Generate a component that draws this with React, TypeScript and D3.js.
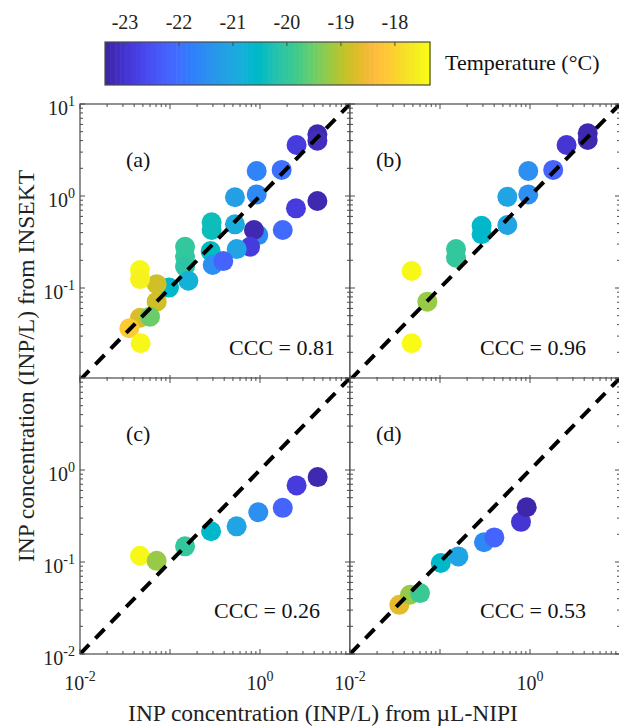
import React from "react";
import * as d3 from "d3";

const W = 619;
const H = 726;

// MATLAB parula colormap (64 entries)
const PARULA: number[][] = [
  [0.2422, 0.1504, 0.6603], [0.2504, 0.165, 0.7076], [0.2578, 0.1818, 0.7511], [0.2647, 0.1978, 0.7952],
  [0.2706, 0.2147, 0.8364], [0.2751, 0.2342, 0.871], [0.2783, 0.2559, 0.8991], [0.2803, 0.2782, 0.9221],
  [0.2813, 0.3006, 0.9414], [0.281, 0.3228, 0.9579], [0.2795, 0.3447, 0.9717], [0.276, 0.3667, 0.9829],
  [0.2699, 0.3892, 0.9906], [0.2602, 0.4123, 0.9952], [0.244, 0.4358, 0.9988], [0.2206, 0.4603, 0.9973],
  [0.1963, 0.4847, 0.9892], [0.1834, 0.5074, 0.9798], [0.1786, 0.5289, 0.9682], [0.1764, 0.5499, 0.952],
  [0.1687, 0.5703, 0.9359], [0.154, 0.5902, 0.9218], [0.146, 0.6091, 0.9079], [0.138, 0.6276, 0.8973],
  [0.1248, 0.6459, 0.8883], [0.1113, 0.6635, 0.8763], [0.0952, 0.6798, 0.8598], [0.0689, 0.6948, 0.8394],
  [0.0297, 0.7082, 0.8163], [0.0036, 0.7203, 0.7917], [0.0067, 0.7312, 0.766], [0.0433, 0.7411, 0.7394],
  [0.0964, 0.75, 0.712], [0.1408, 0.7584, 0.6842], [0.1717, 0.767, 0.6554], [0.1938, 0.7758, 0.6251],
  [0.2161, 0.7843, 0.5923], [0.247, 0.7918, 0.5567], [0.2906, 0.7973, 0.5188], [0.3406, 0.8008, 0.4789],
  [0.3909, 0.8029, 0.4354], [0.4456, 0.8024, 0.3909], [0.5044, 0.7993, 0.348], [0.5616, 0.7942, 0.3045],
  [0.6174, 0.7876, 0.2612], [0.672, 0.7793, 0.2227], [0.7242, 0.7698, 0.191], [0.7738, 0.7598, 0.1646],
  [0.8203, 0.7498, 0.1535], [0.8634, 0.7406, 0.1596], [0.9035, 0.733, 0.1774], [0.9393, 0.7288, 0.21],
  [0.9728, 0.7298, 0.2394], [0.9956, 0.7434, 0.2371], [0.997, 0.7659, 0.2199], [0.9952, 0.7893, 0.2028],
  [0.9892, 0.8136, 0.1885], [0.9786, 0.8386, 0.1766], [0.9676, 0.8639, 0.1643], [0.961, 0.889, 0.1537],
  [0.9597, 0.9135, 0.1423], [0.9628, 0.9373, 0.1265], [0.9691, 0.9606, 0.1064], [0.9769, 0.9839, 0.0805],
];
const parulaColors = PARULA.map(([r, g, b]) => d3.rgb(r * 255, g * 255, b * 255).formatHex());

// Temperature colour range and colorbar ticks (°C)
const TEMP_RANGE = [-23.37, -17.35];
const tempTicks = [-23, -22, -21, -20, -19, -18];

// (a) all samples
const aX = [4.34, 4.34, 2.55, 1.74, 0.919, 0.919, 0.527, 4.34, 2.51, 1.79, 0.527, 0.957, 0.857, 0.776, 0.551, 0.29, 0.29, 0.283, 0.298, 0.391, 0.147, 0.147, 0.147, 0.16, 0.0975, 0.0711, 0.0464, 0.0464, 0.0711, 0.0464, 0.06, 0.0353, 0.0472];
const aY = [4.69, 3.99, 3.58, 1.92, 1.87, 1.04, 0.97, 0.883, 0.734, 0.427, 0.492, 0.376, 0.427, 0.281, 0.265, 0.518, 0.427, 0.252, 0.178, 0.196, 0.281, 0.219, 0.171, 0.12, 0.101, 0.11, 0.157, 0.125, 0.071, 0.0475, 0.0488, 0.0365, 0.0251];
const aT = [-23.3, -23.2, -22.9, -22.0, -21.7, -21.6, -21.2, -23.3, -22.9, -22.1, -20.9, -21.6, -23.3, -22.9, -21.1, -20.4, -20.4, -20.5, -21.5, -22.2, -20.0, -20.0, -20.1, -20.8, -20.6, -18.8, -17.4, -17.5, -18.8, -18.7, -19.5, -18.1, -17.4];

// (b)
const bX = [0.0484, 0.0723, 0.0484, 0.1506, 0.1506, 0.29, 0.29, 0.56, 0.56, 0.957, 0.957, 1.81, 2.55, 4.38, 4.38];
const bY = [0.153, 0.071, 0.0251, 0.265, 0.213, 0.475, 0.384, 0.484, 0.98, 1.04, 1.87, 1.92, 3.58, 4.8, 4.06];
const bT = [-17.4, -19.2, -17.35, -20.0, -20.0, -20.6, -20.6, -21.1, -21.1, -21.5, -21.5, -22.2, -23.0, -23.3, -23.3];

// (c)
const cX = [0.0464, 0.0711, 0.147, 0.286, 0.55, 0.957, 1.79, 2.55, 4.37];
const cY = [0.117, 0.103, 0.148, 0.216, 0.244, 0.347, 0.388, 0.68, 0.838];
const cT = [-17.4, -19.2, -20.0, -20.6, -21.1, -21.5, -22.2, -22.9, -23.3];

// (d)
const dX = [0.0353, 0.0464, 0.06, 0.102, 0.16, 0.308, 0.402, 0.794, 0.919];
const dY = [0.0342, 0.044, 0.0459, 0.0975, 0.115, 0.164, 0.185, 0.273, 0.394];
const dT = [-18.6, -19.2, -19.9, -20.6, -21.1, -21.6, -22.2, -23.0, -23.35];

const panelNames = ["(a)", "(b)", "(c)", "(d)"];
const cccValues = ["0.81", "0.96", "0.26", "0.53"];

const DOMAIN: [number, number] = [0.01, 10];
const decades = [0.01, 0.1, 1, 10];
const minorTicks = [0.01, 0.1, 1].flatMap((d) => d3.range(2, 10).map((m) => m * d));

const FONT = "'Liberation Serif', 'Times New Roman', serif";
const AXIS_COLOR = "#4a4a4a";
const TEXT_COLOR = "#111";

const color = d3
  .scaleSequential(d3.piecewise(d3.interpolateRgb, parulaColors))
  .domain(TEMP_RANGE as [number, number]);

const PW = 270;
const PH = 276;

type Panel = {
  x0: number;
  y0: number;
  xs: number[];
  ys: number[];
  ts: number[];
  name: string;
  ccc: string;
  nameAt: [number, number];
  cccAt: [number, number];
  yLabels: number[];
  xLabels: number[];
};

const panels: Panel[] = [
  { x0: 80, y0: 104, xs: aX, ys: aY, ts: aT, name: panelNames[0], ccc: cccValues[0], nameAt: [126, 167], cccAt: [335, 355], yLabels: [10, 1, 0.1], xLabels: [] },
  { x0: 350, y0: 104, xs: bX, ys: bY, ts: bT, name: panelNames[1], ccc: cccValues[1], nameAt: [376, 167], cccAt: [586, 355], yLabels: [], xLabels: [] },
  { x0: 80, y0: 378, xs: cX, ys: cY, ts: cT, name: panelNames[2], ccc: cccValues[2], nameAt: [126, 441], cccAt: [320, 618], yLabels: [1, 0.1, 0.01], xLabels: [0.01, 1] },
  { x0: 350, y0: 378, xs: dX, ys: dY, ts: dT, name: panelNames[3], ccc: cccValues[3], nameAt: [376, 441], cccAt: [586, 618], yLabels: [], xLabels: [0.01, 1] },
];

function PowerLabel({ v, ...rest }: { v: number } & React.SVGProps<SVGTextElement>) {
  const exp = Math.round(Math.log10(v));
  return (
    <text {...rest}>
      10
      <tspan dy={-9} fontSize={14}>
        {exp}
      </tspan>
    </text>
  );
}

function PanelView({ p, idx }: { p: Panel; idx: number }) {
  const x = d3.scaleLog().domain(DOMAIN).range([p.x0, p.x0 + PW]);
  const y = d3.scaleLog().domain(DOMAIN).range([p.y0 + PH, p.y0]);
  const clipId = `clip-${idx}`;
  const x1 = p.x0 + PW;
  const y1 = p.y0 + PH;
  const line = d3.line<number>().x((v) => x(v)).y((v) => y(v));

  return (
    <g>
      <defs>
        <clipPath id={clipId}>
          <rect x={p.x0} y={p.y0} width={PW} height={PH} />
        </clipPath>
      </defs>
      <rect x={p.x0} y={p.y0} width={PW} height={PH} fill="#fff" />
      <g clipPath={`url(#${clipId})`}>
        {p.xs.map((xv, i) => (
          <circle key={i} cx={x(xv)} cy={y(p.ys[i])} r={10} fill={color(p.ts[i])} />
        ))}
        <path d={line(DOMAIN) ?? ""} stroke="#000" strokeWidth={4} strokeDasharray="13 9" fill="none" />
      </g>
      <g stroke={AXIS_COLOR} strokeWidth={1}>
        {decades.map((v) => (
          <g key={`M${v}`}>
            <line x1={x(v)} x2={x(v)} y1={y1} y2={y1 - 5} />
            <line x1={x(v)} x2={x(v)} y1={p.y0} y2={p.y0 + 5} />
            <line x1={p.x0} x2={p.x0 + 5} y1={y(v)} y2={y(v)} />
            <line x1={x1} x2={x1 - 5} y1={y(v)} y2={y(v)} />
          </g>
        ))}
        {minorTicks.map((v) => (
          <g key={`m${v}`}>
            <line x1={x(v)} x2={x(v)} y1={y1} y2={y1 - 3} />
            <line x1={x(v)} x2={x(v)} y1={p.y0} y2={p.y0 + 3} />
            <line x1={p.x0} x2={p.x0 + 3} y1={y(v)} y2={y(v)} />
            <line x1={x1} x2={x1 - 3} y1={y(v)} y2={y(v)} />
          </g>
        ))}
      </g>
      <rect x={p.x0} y={p.y0} width={PW} height={PH} fill="none" stroke={AXIS_COLOR} strokeWidth={1.2} />
      <text x={p.nameAt[0]} y={p.nameAt[1]} fontSize={22} fill={TEXT_COLOR}>
        {p.name}
      </text>
      <text x={p.cccAt[0]} y={p.cccAt[1]} fontSize={22} textAnchor="end" fill={TEXT_COLOR}>
        CCC = {p.ccc}
      </text>
      {p.yLabels.map((v) => (
        <PowerLabel key={`yl${v}`} v={v} x={p.x0 - 5} y={y(v) + 11} fontSize={20} textAnchor="end" fill="#222" />
      ))}
      {p.xLabels.map((v) => (
        <PowerLabel key={`xl${v}`} v={v} x={x(v)} y={690} fontSize={20} textAnchor="middle" fill="#222" />
      ))}
    </g>
  );
}

function Colorbar() {
  const cx0 = 105;
  const cx1 = 430;
  const cy0 = 42;
  const cy1 = 85;
  const s = d3.scaleLinear().domain(TEMP_RANGE).range([cx0, cx1]);
  const step = (cx1 - cx0) / parulaColors.length;
  return (
    <g>
      {parulaColors.map((c, i) => (
        <rect key={i} x={cx0 + i * step} y={cy0} width={step + 0.6} height={cy1 - cy0} fill={c} />
      ))}
      <rect x={cx0} y={cy0} width={cx1 - cx0} height={cy1 - cy0} fill="none" stroke={AXIS_COLOR} strokeWidth={1.2} />
      {tempTicks.map((t) => (
        <g key={t}>
          <line x1={s(t)} x2={s(t)} y1={cy0} y2={cy0 + 4} stroke={AXIS_COLOR} />
          <text x={s(t)} y={29} fontSize={20} textAnchor="middle" fill="#222">
            {t}
          </text>
        </g>
      ))}
      <text x={445} y={70} fontSize={22} fill={TEXT_COLOR}>
        Temperature (°C)
      </text>
    </g>
  );
}

export default function App() {
  return (
    <div style={{ position: "absolute", left: 0, top: 0 }}>
      <svg width={W} height={H} viewBox={`0 0 ${W} ${H}`} fontFamily={FONT} style={{ display: "block", background: "#fff" }}>
        <rect width={W} height={H} fill="#fff" />
        <Colorbar />
        {panels.map((p, i) => (
          <PanelView key={i} p={p} idx={i} />
        ))}
        <text x={323} y={721} fontSize={23.5} textAnchor="middle" fill="#222">
          INP concentration (INP/L) from µL-NIPI
        </text>
        <text transform="translate(34, 366) rotate(-90)" fontSize={23.5} textAnchor="middle" fill="#222">
          INP concentration (INP/L) from INSEKT
        </text>
      </svg>
    </div>
  );
}
